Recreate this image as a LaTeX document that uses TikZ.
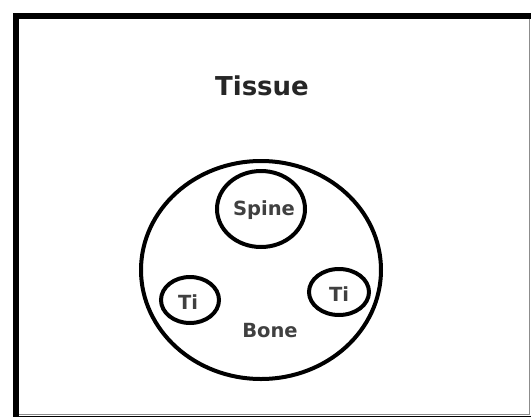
\documentclass[tikz,border=0pt]{standalone}
\usepackage{fontspec}
\setmainfont{DejaVu Sans}
\begin{document}
\begin{tikzpicture}[x=1pt,y=-1pt,
  ring/.style={draw=black,line width=4pt},
  lbl/.style={font=\bfseries\fontsize{19.5}{20}\selectfont,text=black!75,inner sep=0pt}]
\useasboundingbox (0,0) rectangle (531,416);
\clip (0,0) rectangle (531,416);
\draw[line width=6pt,black] (16,15.5) rectangle (535,419);
\draw[line width=1.2pt,black!45] (529.8,18.5) -- (529.8,414.6) -- (19,414.6);
\node[font=\bfseries\fontsize{26}{28}\selectfont,text=black!85,inner sep=0pt] (tissue) at (262,86) {Tissue};
\draw[ring] (261,270) ellipse [x radius=120, y radius=109];
\node (bonec) at (261,270) {};
\draw[ring] (261,209) ellipse [x radius=44, y radius=38];
\node[lbl] (spine) at (264,210) {Spine};
\draw[ring] (190,300) ellipse [x radius=29, y radius=23];
\node[lbl] (ti1) at (188,302) {Ti};
\draw[ring] (339,292) ellipse [x radius=30, y radius=23];
\node[lbl] (ti2) at (339,294) {Ti};
\node[lbl] (bone) at (270,331) {Bone};
\end{tikzpicture}
\end{document}
